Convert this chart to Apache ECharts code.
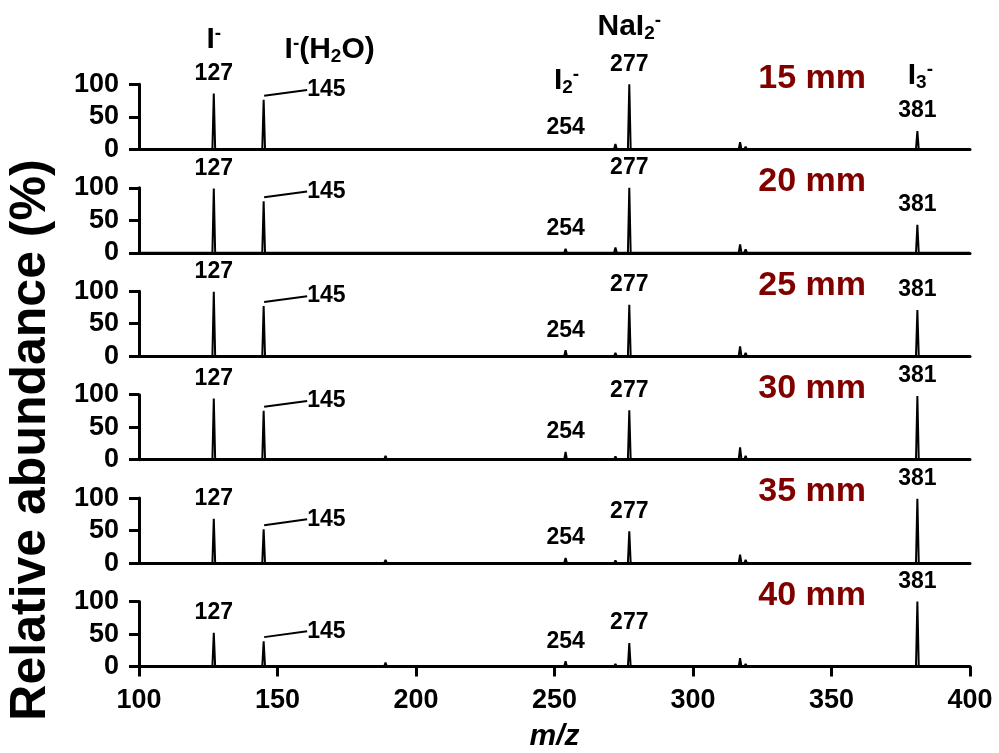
<!DOCTYPE html>
<html><head><meta charset="utf-8">
<script src="https://cdn.jsdelivr.net/npm/echarts@6/dist/echarts.min.js"></script>
<style>html,body{margin:0;padding:0;background:#fff}#c{width:999px;height:753px}</style>
</head><body><div id="c"></div>
<script>
// ---- data ----
const distances = ['15 mm', '20 mm', '25 mm', '30 mm', '35 mm', '40 mm'];
const peakMz  = [127, 145, 173, 189, 254, 272, 277, 302, 317, 319, 330, 347, 363, 381];
const abund15 = [86, 76, 0.5, 1.5, 2, 8, 100, 0.5, 11, 4, 0.5, 0.3, 0.3, 28];
const abund20 = [99, 79, 1, 2, 6, 8, 100, 1, 13, 5, 1, 1, 1, 43];
const abund25 = [99, 77, 0.5, 2, 9, 5, 79, 0.5, 15, 5, 1, 0.3, 0.3, 71];
const abund30 = [94, 75, 0.5, 6, 12, 5, 76, 1, 19, 6, 1, 0.3, 0.3, 98];
const abund35 = [68, 52, 0.5, 5, 8, 4, 49, 0.5, 13, 5, 1, 0.3, 0.3, 99];
const abund40 = [52, 39, 0.5, 6, 8, 4, 36, 0.5, 13, 4, 1, 0.3, 0.3, 100];
const abundances = [abund15, abund20, abund25, abund30, abund35, abund40];
const labeledMz = [127, 254, 277, 381];
const leaderMz = 145;
const xMin = 100, xMax = 400, xStep = 50;
const yMin = 0, yMax = 100, yStep = 50;
const xTitle = 'm/z';
const yTitle = 'Relative abundance (%)';
const ionLabels = [
  {mz: 127, text: '{b|I}{sup|-}'},
  {mz: 145, text: '{b|I}{sup|-}{b|(H}{sub|2}{b|O)}'},
  {mz: 277, text: '{b|NaI}{sub|2}{sup|-}'},
  {mz: 254, text: '{b|I}{sub|2}{sup|-}'},
  {mz: 381, text: '{b|I}{sub|3}{sup|-}'}
];

// ---- layout ----
const L = 139, R = 29, top0 = 84.3, step = 103.45, H = 65;
const FONT = 'Liberation Sans, Arial, sans-serif';
const chart = echarts.init(document.getElementById('c'), null, {renderer: 'canvas'});

const grids = [], xAxes = [], yAxes = [], series = [];
abundances.forEach((ab, i) => {
  const last = i === abundances.length - 1;
  grids.push({left: L, right: R, top: top0 + i * step, height: H, containLabel: false});
  xAxes.push({
    type: 'value', gridIndex: i, min: xMin, max: xMax, interval: xStep,
    axisLine: {show: true, onZero: false, lineStyle: {color: '#000', width: 3}},
    axisTick: {show: last, inside: false, length: 10, lineStyle: {color: '#000', width: 3}},
    axisLabel: {show: last, fontSize: 27, fontWeight: 'bold', color: '#000', margin: 20, fontFamily: FONT},
    splitLine: {show: false},
    name: last ? xTitle : '', nameLocation: 'middle', nameGap: 55,
    nameTextStyle: {fontSize: 30, fontWeight: 'bold', fontStyle: 'italic', color: '#000', fontFamily: FONT}
  });
  yAxes.push({
    type: 'value', gridIndex: i, min: yMin, max: yMax, interval: yStep,
    axisLine: {show: true, lineStyle: {color: '#000', width: 3}},
    axisTick: {show: true, inside: false, length: 10, lineStyle: {color: '#000', width: 3}},
    axisLabel: {fontSize: 27, fontWeight: 'bold', color: '#000', margin: 20, fontFamily: FONT},
    splitLine: {show: false}
  });
  // stick spectrum built from the peak list
  const pts = [[xMin, 0]];
  peakMz.forEach((m, k) => { pts.push([m - 0.5, 0], [m, ab[k]], [m + 0.5, 0]); });
  pts.push([xMax, 0]);
  series.push({
    type: 'line', xAxisIndex: i, yAxisIndex: i, data: pts, showSymbol: false, symbol: 'none',
    lineStyle: {color: '#000', width: 2}, animation: false, z: 3
  });
  // peak labels
  series.push({
    type: 'scatter', xAxisIndex: i, yAxisIndex: i, symbolSize: 1,
    itemStyle: {color: 'rgba(0,0,0,0)', opacity: 1}, animation: false, silent: true,
    data: labeledMz.map(m => [m, ab[peakMz.indexOf(m)]]),
    label: {show: true, position: 'top', distance: 8, formatter: p => String(p.value[0]), opacity: 1,
      fontSize: 23, fontWeight: 'bold', color: '#000', fontFamily: FONT}
  });
  // leader-line label for m/z 145
  series.push({
    type: 'scatter', xAxisIndex: i, yAxisIndex: i, symbolSize: 1, symbolOffset: [0, -4],
    itemStyle: {color: 'rgba(0,0,0,0)', opacity: 1}, animation: false, silent: true,
    data: [[leaderMz, ab[peakMz.indexOf(leaderMz)]]],
    label: {show: true, position: 'right', distance: 5, padding: [0, 0, 0, 5], formatter: p => String(p.value[0]), opacity: 1,
      fontSize: 23, fontWeight: 'bold', color: '#000', fontFamily: FONT},
    labelLayout: {dx: 33, dy: -6},
    labelLine: {show: true, lineStyle: {color: '#000', width: 2, opacity: 1}}
  });
});

const rich = {
  b: {fontSize: 30, fontWeight: 'bold', color: '#000', lineHeight: 32, fontFamily: FONT},
  sub: {fontSize: 19, fontWeight: 'bold', color: '#000', lineHeight: 10, verticalAlign: 'bottom', fontFamily: FONT},
  sup: {fontSize: 19, fontWeight: 'bold', color: '#000', lineHeight: 10, verticalAlign: 'top', fontFamily: FONT}
};

chart.setOption({
  backgroundColor: '#fff',
  animation: false,
  grid: grids, xAxis: xAxes, yAxis: yAxes, series: series
});

function px(mz) { return chart.convertToPixel({xAxisIndex: 0}, mz); }
const ionY = {127: 40, 145: 50, 277: 27, 254: 81, 381: 76};
const ionDx = {127: 0, 145: 66, 277: 0, 254: 1, 381: 3};
const graphics = [];
ionLabels.forEach(o => {
  graphics.push({type: 'text', x: px(o.mz) + ionDx[o.mz], y: ionY[o.mz], z: 10,
    style: {text: o.text, rich: rich, align: 'center', verticalAlign: 'middle'}});
});
distances.forEach((d, i) => {
  graphics.push({type: 'text', x: 866, y: top0 + i * step + H - 71, z: 10,
    style: {text: d, fontSize: 34, fontWeight: 'bold', fill: '#800000', align: 'right', verticalAlign: 'middle', fontFamily: FONT}});
});
graphics.push({type: 'text', x: 31, y: 440, rotation: Math.PI / 2, z: 10,
  style: {text: yTitle, fontSize: 50, fontWeight: 'bold', fill: '#000', align: 'center', verticalAlign: 'middle', fontFamily: FONT}});
chart.setOption({graphic: graphics});
</script></body></html>
